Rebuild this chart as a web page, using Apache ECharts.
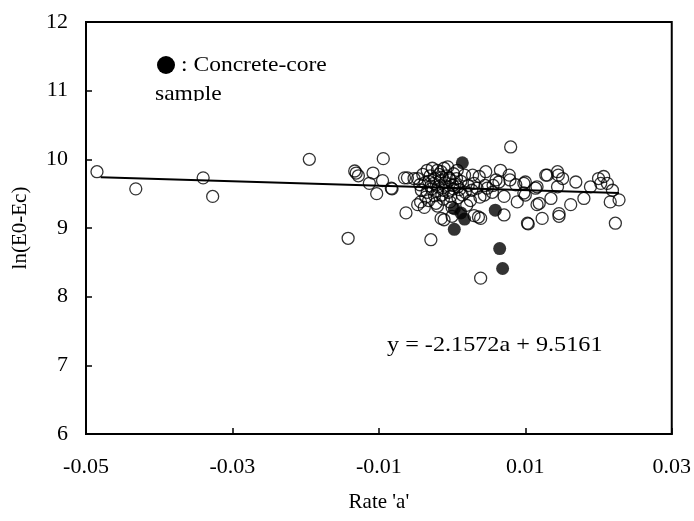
<!DOCTYPE html>
<html>
<head>
<meta charset="utf-8">
<script src="https://cdn.jsdelivr.net/npm/echarts@6/dist/echarts.min.js"></script>
<style>html,body{margin:0;padding:0;background:#fff;}#c{width:694px;height:521px;}</style>
</head>
<body>
<div id="c"></div>
<script>
const xTicks = [-0.05, -0.03, -0.01, 0.01, 0.03];
const yTicks = [6, 7, 8, 9, 10, 11, 12];

const hollowPts = [
  [-0.0485,9.82],[-0.0432,9.57],[-0.0340,9.73],[-0.0327,9.46],[-0.0195,10.00],[-0.0142,8.85],
  [-0.0133,9.83],[-0.0131,9.80],[-0.0128,9.76],[-0.0108,9.80],[-0.0113,9.65],[-0.0095,9.69],
  [-0.0103,9.50],[-0.0094,10.01],[-0.0083,9.58],[-0.0082,9.57],[-0.0065,9.73],[-0.0061,9.73],
  [-0.0052,9.72],[-0.0047,9.34],[-0.0063,9.22],[-0.0029,8.83],
  [-0.0034,9.84],[-0.0027,9.87],[-0.0020,9.84],[-0.0011,9.87],[-0.0006,9.89],[0.0007,9.84],
  [-0.0040,9.78],[-0.0030,9.76],[-0.0018,9.78],[-0.0008,9.76],[0.0002,9.79],[0.0017,9.77],
  [0.0028,9.77],[0.0037,9.75],[0.0046,9.82],[0.0066,9.84],[0.0078,9.77],
  [-0.0047,9.72],[-0.0037,9.66],[-0.0032,9.68],[-0.0025,9.65],[-0.0016,9.69],[-0.0010,9.66],
  [-0.0003,9.70],[0.0004,9.64],[0.0012,9.68],[0.0022,9.62],[0.0030,9.65],[0.0045,9.62],
  [0.0060,9.70],[0.0064,9.67],[0.0056,9.62],
  [-0.0042,9.55],[-0.0034,9.52],[-0.0028,9.57],[-0.0020,9.54],[-0.0012,9.55],[-0.0005,9.52],
  [0.0002,9.57],[0.0010,9.56],[0.0018,9.52],[0.0027,9.55],[0.0034,9.58],[0.0048,9.58],
  [0.0044,9.48],[0.0071,9.46],[0.0055,9.52],
  [-0.0043,9.38],[-0.0032,9.40],[-0.0022,9.36],[-0.0012,9.42],[-0.0003,9.38],[0.0008,9.44],
  [0.0025,9.40],[0.0038,9.45],
  [-0.0038,9.30],[-0.0020,9.32],[0.0000,9.30],[0.0020,9.33],
  [-0.0015,9.14],[0.0000,9.17],[-0.0011,9.12],[0.0036,9.16],[0.0039,9.14],[0.0030,9.18],
  [-0.0024,9.72],[-0.0014,9.74],[-0.0004,9.73],[0.0006,9.72],[-0.0029,9.61],[-0.0019,9.60],
  [-0.0009,9.61],[0.0001,9.62],[0.0008,9.60],[-0.0036,9.45],[-0.0024,9.47],[-0.0014,9.48],
  [-0.0002,9.46],[0.0014,9.48],[-0.0044,9.63],[-0.0015,9.82],
  [0.0080,10.18],[0.0087,9.63],[0.0089,9.38],[0.0098,9.51],[0.0114,9.58],[0.0119,9.36],
  [0.0128,9.77],[0.0103,9.07],[0.0123,9.14],[0.0071,9.19],[0.0079,9.70],[0.0100,9.67],
  [0.0116,9.60],[0.0116,9.34],[0.0098,9.65],[0.0100,9.48],[0.0135,9.43],[0.0130,9.77],
  [0.0144,9.82],[0.0145,9.77],[0.0151,9.72],[0.0169,9.67],[0.0189,9.60],[0.0200,9.72],
  [0.0207,9.75],[0.0203,9.65],[0.0212,9.65],[0.0219,9.55],[0.0216,9.38],[0.0228,9.41],
  [0.0223,9.07],[0.0180,9.43],[0.0162,9.34],[0.0144,9.60],[0.0146,9.21],[0.0146,9.17],
  [0.0104,9.06],[0.0039,8.27]
];

const corePts = [
  [0.0014,9.95],[0.0003,9.28],[0.0012,9.22],[0.0017,9.13],[0.0003,8.98],
  [0.0059,9.26],[0.0065,8.70],[0.0069,8.41]
];

const fitLine = [[-0.048,9.74],[0.0228,9.51]];

const legendText = ': Concrete-core';
const legendText2 = 'sample';
const eqText = 'y = -2.1572a + 9.5161';
const xName = "Rate 'a'";
const yName = 'ln(E0-Ec)';

const FONT = 'Liberation Serif';
const chart = echarts.init(document.getElementById('c'));
chart.setOption({
  animation: false,
  backgroundColor: '#fff',
  grid: { left: 86, right: 21, top: 22, bottom: 87, show: true, borderColor: '#000', borderWidth: 2, backgroundColor: 'transparent' },
  xAxis: {
    type: 'value', min: xTicks[0], max: xTicks[xTicks.length-1], interval: 0.02,
    axisLine: { onZero: false, lineStyle: { color: '#000', width: 2 } },
    axisTick: { inside: true, length: 6, lineStyle: { color: '#000', width: 1.5 } },
    splitLine: { show: false },
    axisLabel: { color: '#000', fontFamily: FONT, fontSize: 22, margin: 22,
      formatter: v => { const t = xTicks.find(k => Math.abs(k - v) < 1e-9); return t === undefined ? '' : String(t); } },
    name: xName, nameLocation: 'middle', nameGap: 58,
    nameTextStyle: { color: '#000', fontFamily: FONT, fontSize: 21 }
  },
  yAxis: {
    type: 'value', min: yTicks[0], max: yTicks[yTicks.length-1], interval: 1,
    axisLine: { onZero: false, lineStyle: { color: '#000', width: 2 } },
    axisTick: { inside: true, length: 6, lineStyle: { color: '#000', width: 1.5 } },
    splitLine: { show: false },
    axisLabel: { color: '#000', fontFamily: FONT, fontSize: 22, margin: 18 },
    name: yName, nameLocation: 'middle', nameGap: 55, nameRotate: 90,
    nameTextStyle: { color: '#000', fontFamily: FONT, fontSize: 21 }
  },
  series: [
    { type: 'line', data: fitLine, symbol: 'none', lineStyle: { color: '#000', width: 2 }, z: 3 },
    { type: 'scatter', data: hollowPts, symbol: 'circle', symbolSize: 12,
      itemStyle: { color: 'rgba(0,0,0,0)', borderColor: '#000', borderWidth: 1.3 }, z: 4 },
    { type: 'scatter', data: corePts, symbol: 'circle', symbolSize: 13,
      itemStyle: { color: '#000' }, z: 5 }
  ],
  graphic: [
    { type: 'circle', shape: { cx: 166, cy: 65, r: 9 }, style: { fill: '#000' } },
    { type: 'text', x: 181, y: 65, style: { text: legendText, font: '22px "Liberation Serif"', fill: '#000', verticalAlign: 'middle' }, scaleX: 1.07 },
    { type: 'text', x: 155, y: 94, style: { text: legendText2, font: '22px "Liberation Serif"', fill: '#000', verticalAlign: 'middle' }, scaleX: 1.07 },
    { type: 'rect', shape: { x: 150, y: 101, width: 90, height: 9 }, style: { fill: '#fff' }, z: 10 },
    { type: 'text', x: 387, y: 345, style: { text: eqText, font: '22px "Liberation Serif"', fill: '#000', verticalAlign: 'middle' }, scaleX: 1.1 }
  ]
});
</script>
</body>
</html>
